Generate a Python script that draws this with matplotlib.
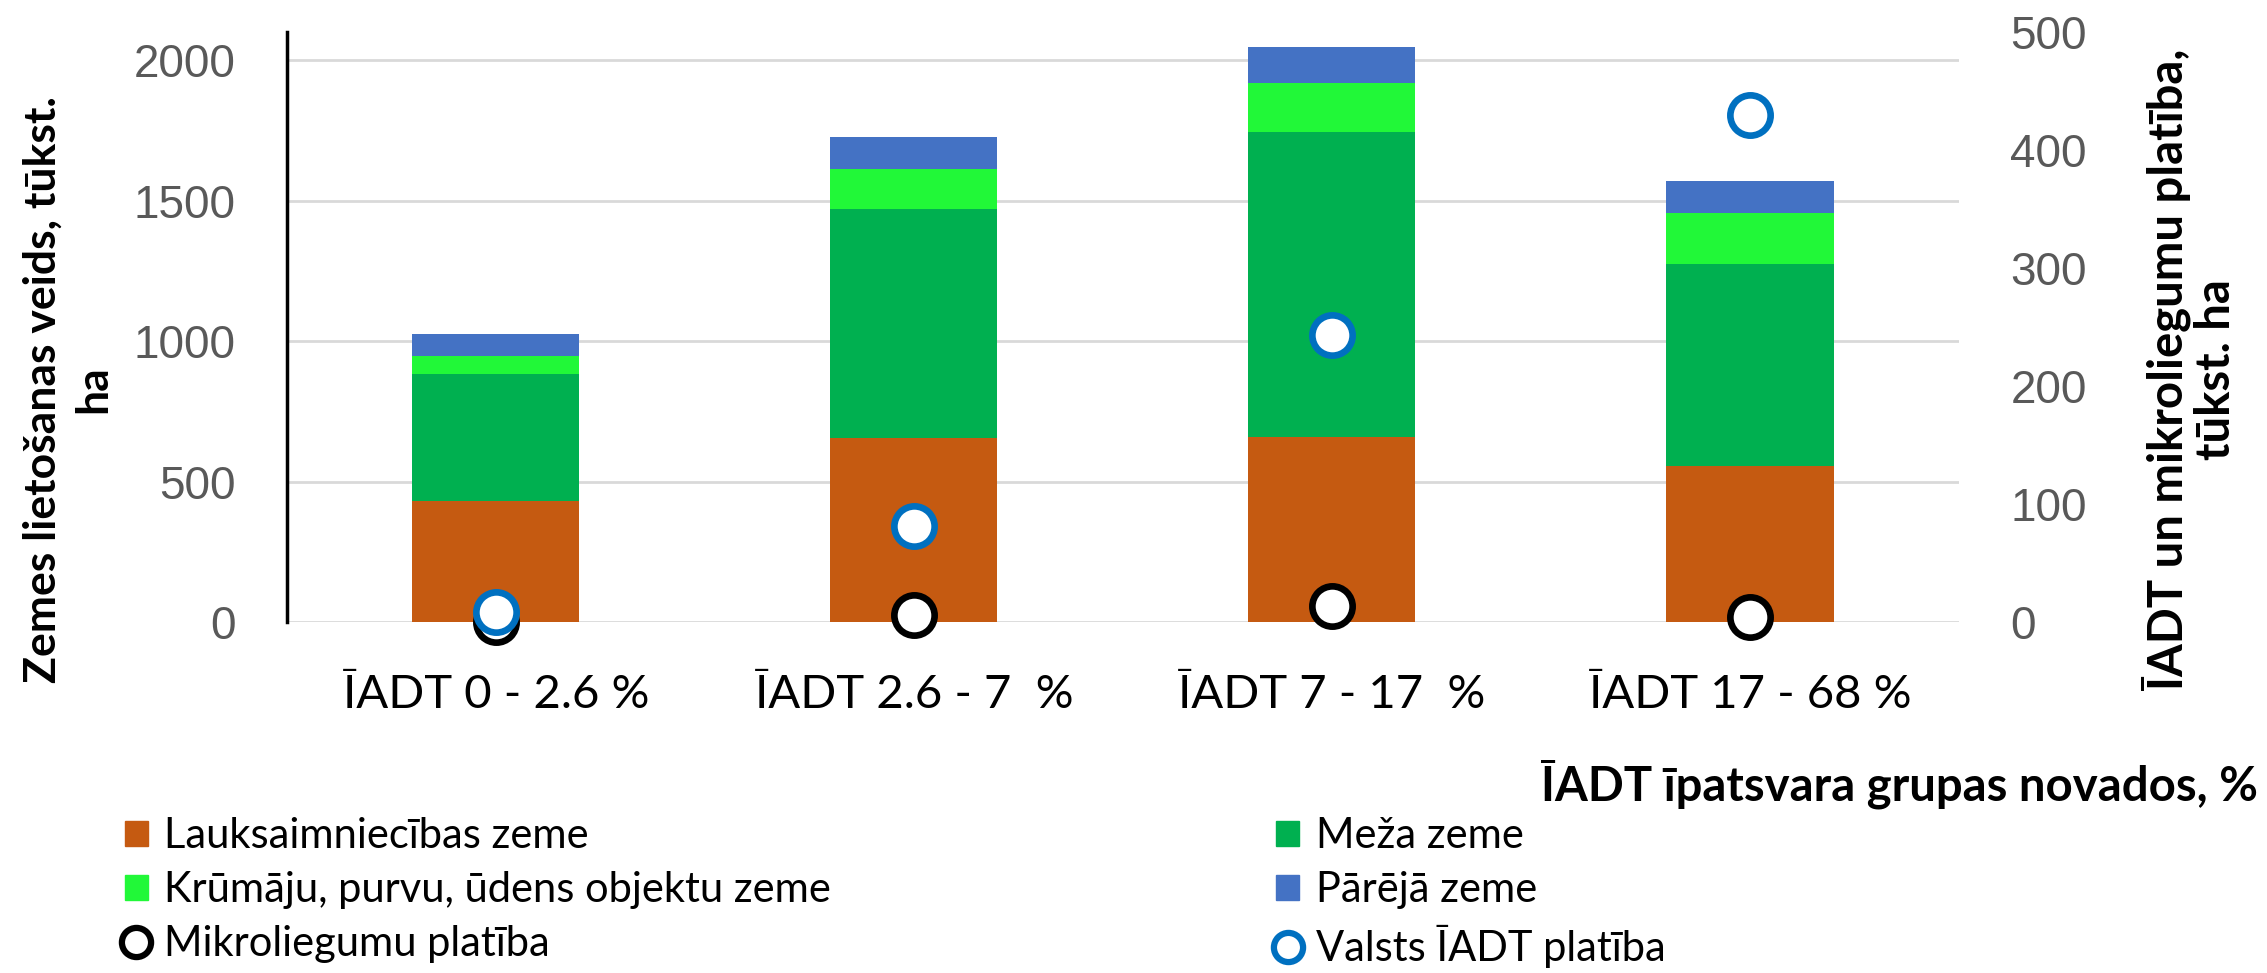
import matplotlib
matplotlib.use('Agg')
import matplotlib.pyplot as plt
import matplotlib.patches as mpatches
from matplotlib.lines import Line2D

# data
groups = ['ĪADT 0 - 2.6 %', 'ĪADT 2.6 - 7  %', 'ĪADT 7 - 17  %', 'ĪADT 17 - 68 %']
lauksaimn = [430, 657, 660, 555]
meza = [455, 812, 1084, 720]
krumaju = [63, 142, 173, 182]
pareja = [77, 114, 131, 113]
mikroliegumi = [0.3, 6.3, 13.5, 4.5]
valsts_iadt = [9, 82, 243, 430]

c_lauks = '#C55A11'
c_meza = '#00B050'
c_krum = '#21F838'
c_par = '#4472C4'
c_valsts = '#0070C0'

txt_font = ['Lato', 'DejaVu Sans']
num_font = ['Liberation Sans', 'DejaVu Sans']
grey = '#595959'

fig = plt.figure(figsize=(22.67, 9.73), dpi=100)
ax = fig.add_axes([0.1265, 0.3604, 0.7376, 0.6067])
ax2 = ax.twinx()

x = range(len(groups))
width = 0.40
bottom2 = [a + b for a, b in zip(lauksaimn, meza)]
bottom3 = [a + b for a, b in zip(bottom2, krumaju)]
ax.bar(x, lauksaimn, width, color=c_lauks, zorder=2)
ax.bar(x, meza, width, bottom=lauksaimn, color=c_meza, zorder=2)
ax.bar(x, krumaju, width, bottom=bottom2, color=c_krum, zorder=2)
ax.bar(x, pareja, width, bottom=bottom3, color=c_par, zorder=2)

ax2.plot(x, mikroliegumi, 'o', ms=29, mfc='white', mec='black', mew=4.8, zorder=3, clip_on=False)
ax2.plot(x, valsts_iadt, 'o', ms=29, mfc='white', mec=c_valsts, mew=4.8, zorder=4, clip_on=False)

ax.set_xlim(-0.5, 3.5)
ax.set_ylim(0, 2100)
ax2.set_ylim(0, 500)
ax.set_yticks([0, 500, 1000, 1500, 2000])
ax2.set_yticks([0, 100, 200, 300, 400, 500])
ax.yaxis.grid(True, color='#D9D9D9', lw=2)
ax.set_axisbelow(True)

for a in (ax, ax2):
    for s in a.spines.values():
        s.set_visible(False)
ax.spines['left'].set_visible(True)
ax.spines['left'].set_linewidth(2.5)
ax.spines['left'].set_color('black')

ax.tick_params(axis='y', length=0, pad=37, labelsize=33, labelcolor=grey)
ax2.tick_params(axis='y', length=0, pad=37, labelsize=33, labelcolor=grey)
for lab in ax.get_yticklabels() + ax2.get_yticklabels():
    lab.set_family(num_font)
ax.set_xticks(list(x))
ax.set_xticklabels(groups, family=txt_font, fontsize=34)
ax.tick_params(axis='x', length=0, pad=37)
ax2.set_zorder(ax.get_zorder() + 1)

fig.text(0.030, 0.60, 'Zemes lietošanas veids, tūkst.\nha', rotation=90, ha='center', va='center',
         multialignment='center', fontsize=32, fontweight='bold', family=txt_font, linespacing=1.3)
fig.text(0.966, 0.62, 'ĪADT un mikroliegumu platība,\ntūkst. ha', rotation=90, ha='center', va='center',
         multialignment='center', fontsize=34, fontweight='bold', family=txt_font, linespacing=1.1)
fig.text(0.996, 0.194, 'ĪADT īpatsvara grupas novados, %', ha='right', va='center',
         fontsize=34, fontweight='bold', family=txt_font)

h_lauks = mpatches.Patch(color=c_lauks, label='Lauksaimniecības zeme')
h_krum = mpatches.Patch(color=c_krum, label='Krūmāju, purvu, ūdens objektu zeme')
h_mikro = Line2D([], [], ls='none', marker='o', ms=21, mfc='white', mec='black', mew=4.5, label='Mikroliegumu platība')
h_meza = mpatches.Patch(color=c_meza, label='Meža zeme')
h_par = mpatches.Patch(color=c_par, label='Pārējā zeme')
h_valsts = Line2D([], [], ls='none', marker='o', ms=21, mfc='white', mec=c_valsts, mew=4.5, label='Valsts ĪADT platība')

leg_props = dict(family=txt_font, size=30)
leg1 = fig.legend(handles=[h_lauks, h_krum, h_mikro], loc='upper left', bbox_to_anchor=(0.055, 0.16),
                  frameon=False, prop=leg_props, handlelength=0.55, handleheight=0.55, handletextpad=0.4,
                  labelspacing=0.38, borderpad=0, borderaxespad=0)
leg2 = fig.legend(handles=[h_meza, h_par, h_valsts], loc='upper left', bbox_to_anchor=(0.563, 0.16),
                  frameon=False, prop=leg_props, handlelength=0.55, handleheight=0.55, handletextpad=0.4,
                  labelspacing=0.38, borderpad=0, borderaxespad=0)

fig.savefig('out.png', dpi=100)
